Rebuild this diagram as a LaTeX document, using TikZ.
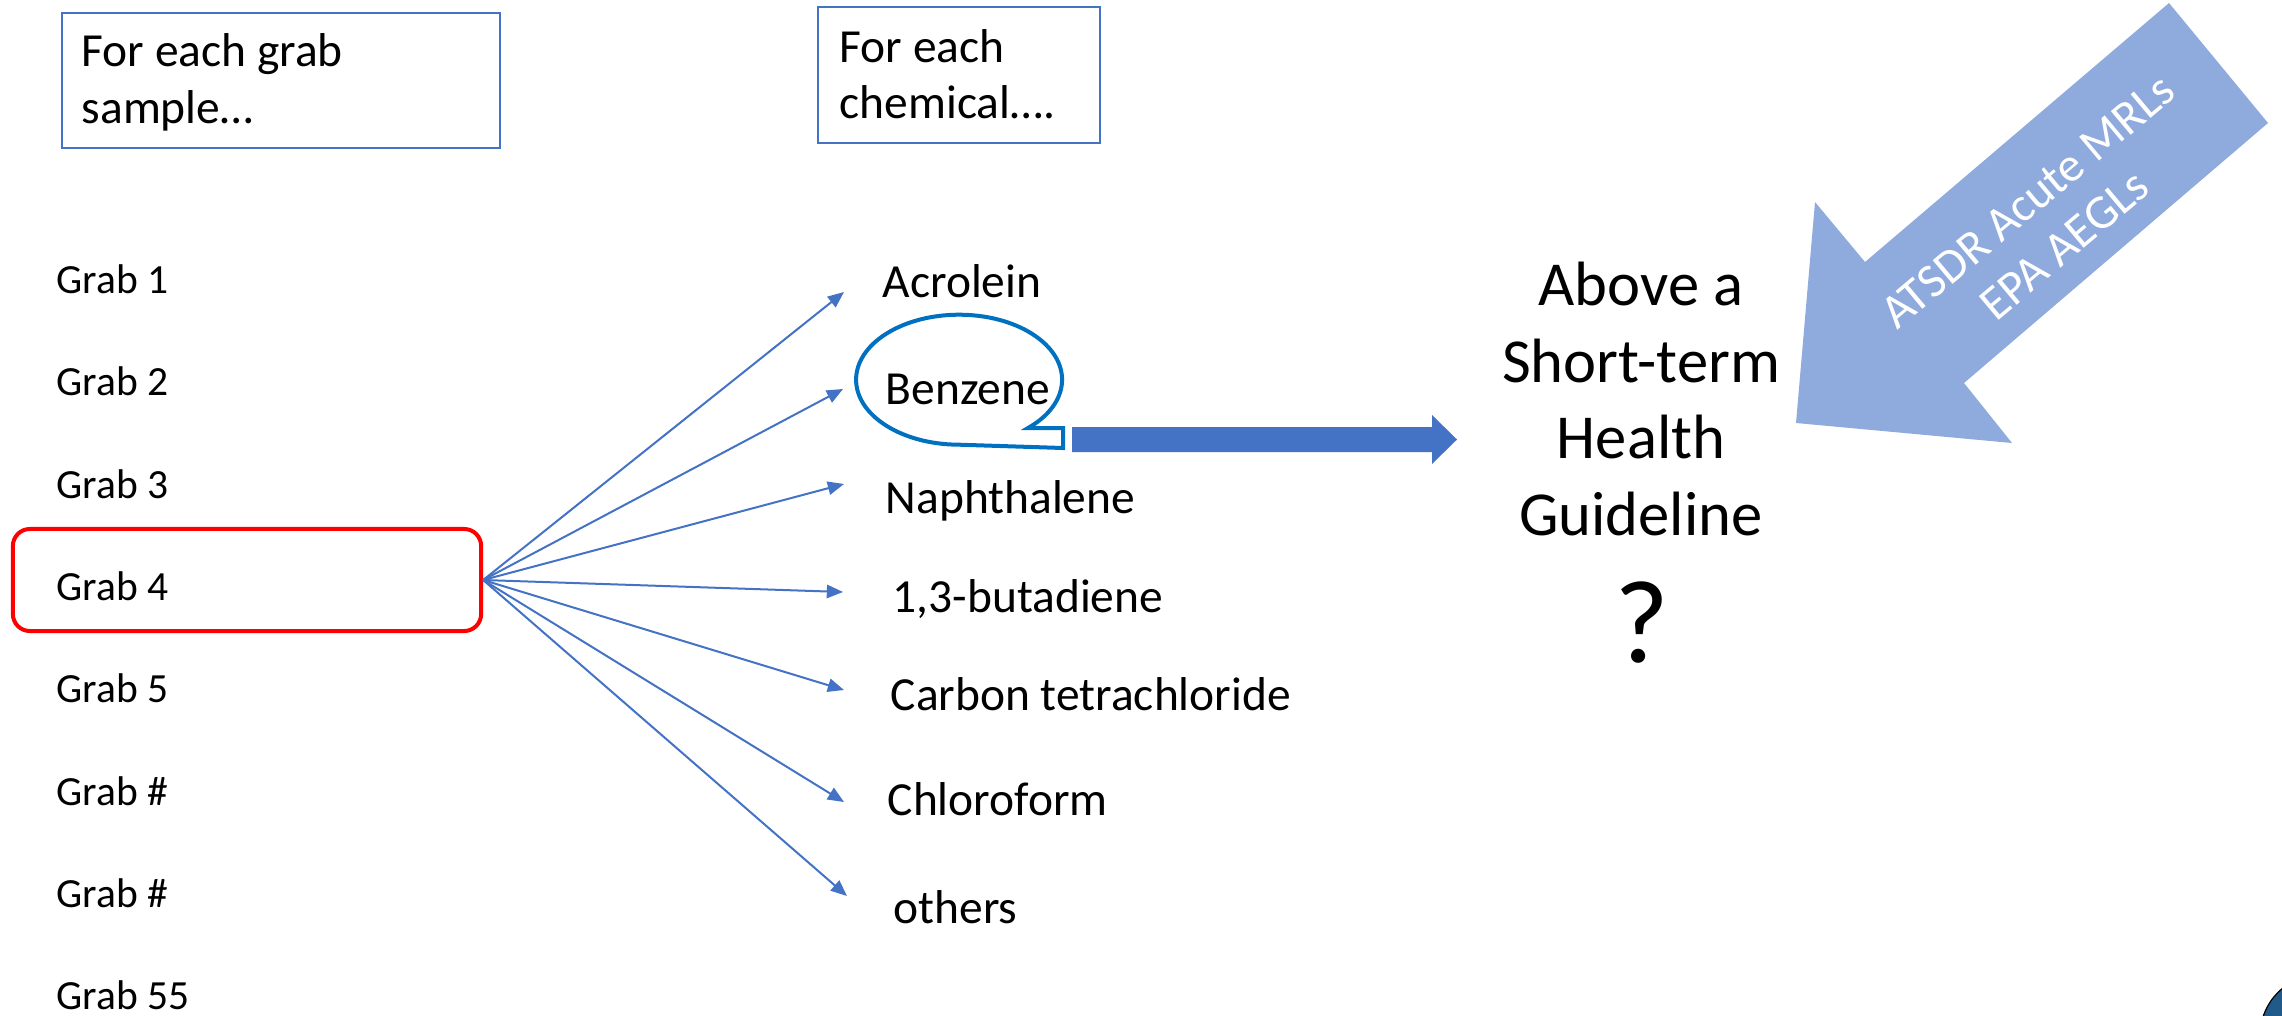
\documentclass[tikz,border=0pt]{standalone}
\usepackage{fontspec}
\setmainfont{Carlito}
\usetikzlibrary{arrows.meta}
\definecolor{accblue}{HTML}{4472C4}
\definecolor{callblue}{HTML}{0070C0}
\definecolor{lightarr}{HTML}{8FAADC}
\definecolor{logoblue}{HTML}{1F5A8A}
\begin{document}
\begin{tikzpicture}[x=0.01cm,y=-0.01cm,
  grab/.style={anchor=base west, inner sep=0pt, font=\fontsize{11.8}{14}\selectfont},
  chem/.style={anchor=base west, inner sep=0pt, font=\fontsize{13.5}{16}\selectfont},
  boxtext/.style={anchor=base west, inner sep=0pt, font=\fontsize{13.5}{16}\selectfont},
  bigtext/.style={anchor=base, inner sep=0pt, font=\fontsize{17.8}{21.8}\selectfont},
  infobox/.style={draw=accblue, line width=0.02cm, anchor=north west, inner sep=0pt},
  conn/.style={draw=accblue, line width=0.02cm, -{Triangle[length=4.6pt,width=3.8pt]}},
  callout/.style={draw=callblue, line width=0.04cm},
]
\useasboundingbox (0,0) rectangle (2282,1015);

% header boxes
\node[infobox, minimum width=4.38cm, minimum height=1.35cm] (box1) at (61,12) {};
\node[boxtext] (b1a) at (81,67) {For each grab};
\node[boxtext] (b1b) at (81,123) {sample…};
\node[infobox, minimum width=2.82cm, minimum height=1.36cm] (box2) at (817,6) {};
\node[boxtext] (b2a) at (839,62) {For each};
\node[boxtext] (b2b) at (839,118) {chemical….};

% grab samples
\node[draw=red, line width=0.04cm, rounded corners=0.17cm, minimum width=4.68cm, minimum height=1.02cm, inner sep=0pt] (g4box) at (247,580) {};
\node[grab] (g1) at (56,293) {Grab 1};
\node[grab] (g2) at (56,395) {Grab 2};
\node[grab] (g3) at (56,498) {Grab 3};
\node[grab] (g4) at (56,600) {Grab 4};
\node[grab] (g5) at (56,702) {Grab 5};
\node[grab] (g6) at (56,805) {Grab \#};
\node[grab] (g7) at (56,907) {Grab \#};
\node[grab] (g8) at (56,1009) {Grab 55};

% chemicals
\node[chem] (c1) at (882,297) {Acrolein};
\node[chem] (c2) at (885,404) {Benzene};
\node[chem] (c3) at (885,513) {Naphthalene};
\node[chem] (c4) at (892,612) {1,3-butadiene};
\node[chem] (c5) at (890,710) {Carbon tetrachloride};
\node[chem] (c6) at (887,815) {Chloroform};
\node[chem] (c7) at (893,923) {others};

% arrow tips
\coordinate (t1) at (844,292);
\coordinate (t2) at (843,389);
\coordinate (t3) at (844,484);
\coordinate (t4) at (843,592);
\coordinate (t5) at (844,690);
\coordinate (t6) at (844,802);
\coordinate (t7) at (847,896);
\foreach \t in {t1,t2,t3,t4,t5,t6,t7}{\draw[conn] (g4box.east) -- (\t);}

% benzene callout
\draw[callout] (1028,428) arc[start angle=48, end angle=-270, x radius=103, y radius=65] -- (1063,448) -- (1063,428) -- cycle;

% block arrow to guideline
\fill[accblue] (1072,427) -- (1432,427) -- (1432,415) -- (1457,439.5) -- (1432,464) -- (1432,452) -- (1072,452) -- cycle;

% guideline text
\node[bigtext] (q1) at (1641,305) {Above a};
\node[bigtext] (q2) at (1641,382) {Short-term};
\node[bigtext] (q3) at (1641,458) {Health};
\node[bigtext] (q4) at (1641,535) {Guideline};
\node[anchor=base, inner sep=0pt, font=\fontsize{33.6}{40}\selectfont] (qm) at (1642,662) {?};

% light blue block arrow
\fill[lightarr] (2169,3) -- (2268,123) -- (1964,383) -- (2012,443) -- (1796,423) -- (1815,202) -- (1865,262) -- cycle;
\node[text=white, rotate=40, align=center, inner sep=0pt, font=\fontsize{13.7}{16.2}\selectfont] (src) at (2046,223) {ATSDR Acute MRLs\\EPA AEGLs};

% logo corner
\fill[logoblue] (2322,1036) circle[radius=62];
\draw[black, line width=0.012cm] (2322,1036) circle[radius=62];
\end{tikzpicture}
\end{document}
